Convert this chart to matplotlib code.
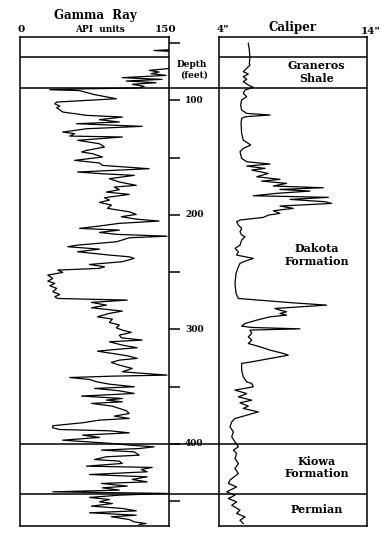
import matplotlib
matplotlib.use("Agg")
import matplotlib.pyplot as plt

W, H = 389, 542

# gamma ray log (depth in feet, API units); values > 150 are off scale
gr_depth = [45, 55.5, 56.5, 57.5, 72.0, 72.4, 73.8, 75.3, 76.7, 78.2, 80.2, 81.7, 83.1, 84.6,
            86.0, 87.8, 89.2, 90.0, 90.7, 91.5, 95.0, 98.6, 101.5, 103.0, 105.0, 106.5,
            110.2, 113.1, 114.6, 116.9, 118.9, 120.4, 122.7, 124.8, 127.7, 129.1, 131.2,
            132.0, 134.9, 137.9, 140.8, 143.7, 145.1, 146.6, 149.5, 152.4, 154.7, 156.8,
            159.7, 162.6, 164.1, 165.5, 168.4, 171.3, 174.2, 175.7, 178.0, 180.1, 182.1,
            185.0, 187.1, 189.1, 191.4, 194.3, 197.3, 199.6, 201.6, 203.7, 205.4, 207.4,
            209.5, 211.8, 213.3, 215.3, 217.0, 218.6, 220.0, 221.4, 223.5, 226.4, 227.8,
            229.9, 232.2, 235.1, 236.6, 238.0, 240.9, 243.3, 245.3, 246.7, 248.2, 250.2,
            252.6, 255.5, 257.8, 259.8, 261.9, 264.2, 267.1, 269.5, 271.5, 273.0, 274.4,
            276.4, 278.8, 281.1, 284.0, 286.0, 289.0, 291.0, 293.9, 296.2, 298.6, 300.6,
            302.6, 305.0, 307.3, 309.3, 310.8, 313.7, 316.0, 317.2, 319.0, 321.0, 323.0,
            325.3, 326.8, 328.8, 331.2, 334.1, 337.0, 339.9, 340.8, 342.0, 343.7, 345.7,
            347.8, 350.1, 351.5, 353.6, 355.9, 358.2, 360.3, 361.7, 363.2, 364.6, 367.0,
            369.0, 371.0, 373.4, 375.7, 377.7, 379.2, 381.5, 384.1, 385.9, 387.4, 388.5,
            390.3, 392.3, 394.3, 396.7, 398.1, 399.6, 401.0, 402.5, 404.0, 405.4, 406.9,
            409.8, 411.2, 413.6, 415.0, 417.0, 419.4, 420.5, 422.3, 424.3, 426.7, 428.7,
            431.0, 433.1, 434.5, 436.8, 438.3, 440.3, 441.8, 443.2, 444.7, 446.7, 448.5,
            450.5, 452.0, 454.3, 456.3, 458.4, 460.1, 462.2, 463.6, 466.0, 468.0, 469.5, 470.3]
gr_api = [158, 158, 135, 158, 158, 148, 130, 140, 132, 147, 103, 143, 107, 137,
          113, 125, 120, 60, 30, 60, 75, 97, 37, 35, 40, 37,
          43, 67, 103, 80, 100, 57, 123, 67, 43, 55, 50,
          103, 58, 80, 85, 67, 62, 73, 83, 55, 80, 83,
          130, 58, 83, 115, 90, 100, 117, 95, 100, 87, 110,
          85, 90, 80, 92, 88, 110, 117, 102, 117, 140, 100,
          82, 60, 100, 80, 97, 148, 110, 105, 97, 58, 48,
          80, 58, 90, 110, 115, 103, 70, 85, 80, 38, 43,
          28, 33, 28, 35, 30, 37, 33, 40, 35, 38, 108,
          72, 87, 72, 103, 90, 78, 93, 90, 100, 97, 103,
          112, 100, 102, 123, 90, 103, 118, 100, 78, 93, 108,
          118, 100, 92, 100, 113, 103, 148, 93, 50, 70, 77,
          90, 115, 75, 100, 115, 62, 103, 87, 103, 72, 93,
          100, 107, 110, 95, 110, 80, 63, 33, 33, 40, 90,
          110, 63, 80, 43, 67, 93, 110, 135, 120, 82, 115,
          120, 87, 75, 100, 103, 67, 133, 122, 128, 70, 128,
          113, 128, 82, 108, 83, 100, 33, 148, 100, 70, 90,
          80, 93, 72, 103, 117, 70, 117, 92, 110, 115, 127, 120]

# caliper log (depth in feet, hole diameter in inches)
cal_depth = [50.2, 56, 62, 68, 69.2, 72.1, 75.0, 77.0, 79.4, 81.5, 83.7, 86.6, 88.7, 91.0,
             93.9, 96.8, 99.7, 104.1, 108.5, 111.4, 112.8, 114.3, 115.8, 120.1, 128.9,
             134.7, 139.0, 142.0, 144.9, 150.7, 153.6, 155.6, 157.4, 159.4, 160.9, 163.8,
             166.7, 169.0, 170.5, 172.5, 174.8, 176.3, 177.8, 179.2, 181.2, 183.3, 184.7,
             186.5, 188.5, 190.0, 192.3, 194.3, 196.4, 198.7, 200.2, 202.2, 204.5, 206.0,
             208.9, 211.8, 214.7, 217.6, 219.1, 222.0, 226.4, 229.3, 232.2, 235.1, 238.0,
             241.0, 242.4, 245.3, 251.1, 259.9, 268.6, 273.0, 275.0, 276.8, 278.8, 280.3,
             281.7, 283.2, 284.6, 286.1, 287.5, 289.0, 291.9, 294.8, 297.1, 298.3, 299.5,
             300.6, 303.5, 306.5, 309.4, 312.3, 315.2, 318.1, 321.0, 322.5, 325.4, 328.3,
             329.7, 335.6, 341.4, 345.8, 347.2, 350.1, 353.0, 356.0, 358.9, 361.8, 364.1,
             367.0, 369.0, 372.0, 374.9, 377.8, 380.7, 385.1, 389.4, 393.8, 398.2, 402.5,
             405.4, 408.3, 412.7, 417.1, 421.4, 425.8, 431.6, 434.5, 437.5, 441.8, 444.7,
             447.6, 450.6, 453.5, 457.8, 460.7, 463.7, 466.6, 469.5]
cal_in = [5.98, 6.05, 6.09, 6.05, 6.09, 5.87, 5.64, 5.98, 5.64, 5.87, 5.64, 5.98, 6.32, 5.76,
          5.64, 5.87, 5.53, 5.46, 5.53, 5.87, 7.45, 5.76, 5.53, 5.49, 5.53,
          5.64, 6.14, 5.64, 5.42, 5.53, 5.87, 7.45, 5.87, 7.11, 6.21, 7.33,
          6.55, 8.12, 6.88, 8.57, 7.67, 11.05, 8.12, 10.15, 7.90, 6.32, 11.39,
          8.80, 11.16, 11.61, 8.12, 9.02, 7.67, 8.12, 7.33, 7.0, 5.42, 5.19,
          5.31, 5.53, 5.42, 5.53, 5.76, 5.53, 5.42, 5.08, 5.31, 5.19, 6.32,
          5.64, 5.42, 5.31, 5.15, 5.08, 5.15, 5.31, 7.22, 9.02, 11.27, 9.47,
          7.78, 8.12, 8.57, 8.12, 8.57, 7.45, 6.55, 5.76, 5.53, 6.21, 9.47,
          6.09, 6.21, 5.98, 6.21, 5.98, 6.77, 7.45, 8.35, 8.68, 7.45, 6.21,
          5.53, 5.53, 5.64, 5.87, 6.21, 6.32, 5.08, 5.87, 5.31, 6.21, 5.42,
          5.98, 5.64, 6.66, 5.87, 5.08, 4.86, 4.74, 4.97, 4.86, 5.08, 5.31,
          4.97, 5.19, 5.08, 5.31, 5.08, 5.31, 4.74, 4.63, 5.19, 4.52, 5.08,
          4.63, 5.19, 4.86, 5.42, 5.19, 5.76, 5.42, 5.64]

depth_top, depth_bot = 44.7, 471.2
depth_ticks = [50, 100, 150, 200, 250, 300, 350, 400, 450]
depth_labels = [100, 200, 300, 400]

# formation tops (feet) and names
top_box = 62.2
tops = [89.5, 400, 443.7]
formations = ["Graneros\nShale", "Dakota\nFormation", "Kiowa\nFormation", "Permian"]
formation_depth = [75.3, 235, 420.3, 456.8]

plt.rcParams['font.family'] = 'DejaVu Serif'
plt.rcParams['font.weight'] = 'bold'

fig = plt.figure(figsize=(W / 100, H / 100), dpi=100)


def px_axes(x0, x1, y0, y1):
    return fig.add_axes([x0 / W, 1 - y1 / H, (x1 - x0) / W, (y1 - y0) / H])


ax_gr = px_axes(20, 169, 37, 525.5)
ax_mid = px_axes(169, 219, 37, 525.5)
ax_cal = px_axes(219, 367, 37, 525.5)

for ax in (ax_gr, ax_mid, ax_cal):
    ax.set_ylim(depth_bot, depth_top)
    ax.set_xticks([])
    ax.set_yticks([])
    ax.patch.set_alpha(0)
    for s in ax.spines.values():
        s.set_linewidth(1.1)

ax_gr.set_xlim(0, 150)
ax_cal.set_xlim(4, 14)
ax_mid.set_xlim(0, 1)
for s in ax_mid.spines.values():
    s.set_visible(False)

ax_gr.plot(gr_api, gr_depth, color='black', lw=0.9)
ax_cal.plot(cal_in, cal_depth, color='black', lw=0.9)

ax_gr.axhline(top_box, color='black', lw=1.1)
ax_cal.axhline(top_box, color='black', lw=1.1)
for d in tops:
    for ax in (ax_gr, ax_mid, ax_cal):
        ax.axhline(d, color='black', lw=1.1)

ax_mid.hlines(depth_ticks, 0, 0.22, color='black', lw=1.1)
for d in depth_labels:
    ax_mid.text(0.32, d, str(d), ha='left', va='center', fontsize=6.5)
ax_mid.text(0.45, 68.5, "Depth", ha='center', va='center', fontsize=6.5)
ax_mid.text(0.5, 77.5, "(feet)", ha='center', va='center', fontsize=6.5)

for name, d in zip(formations, formation_depth):
    ax_cal.text(0.66, d, name, transform=ax_cal.get_yaxis_transform(),
                ha='center', va='center', fontsize=8, linespacing=1.15)


def ftext(x, y, s, size):
    fig.text(x / W, 1 - y / H, s, ha='center', va='center', fontsize=size)


ftext(95, 15, "Gamma  Ray", 8.5)
ftext(21, 29, "0", 7.5)
ftext(100, 29, "API  units", 6.5)
ftext(166, 29, "150", 7.5)
ftext(223, 29, "4\"", 7.5)
ftext(293, 27, "Caliper", 8.5)
ftext(371, 31, "14\"", 7.5)

fig.savefig("out.png", dpi=100)
